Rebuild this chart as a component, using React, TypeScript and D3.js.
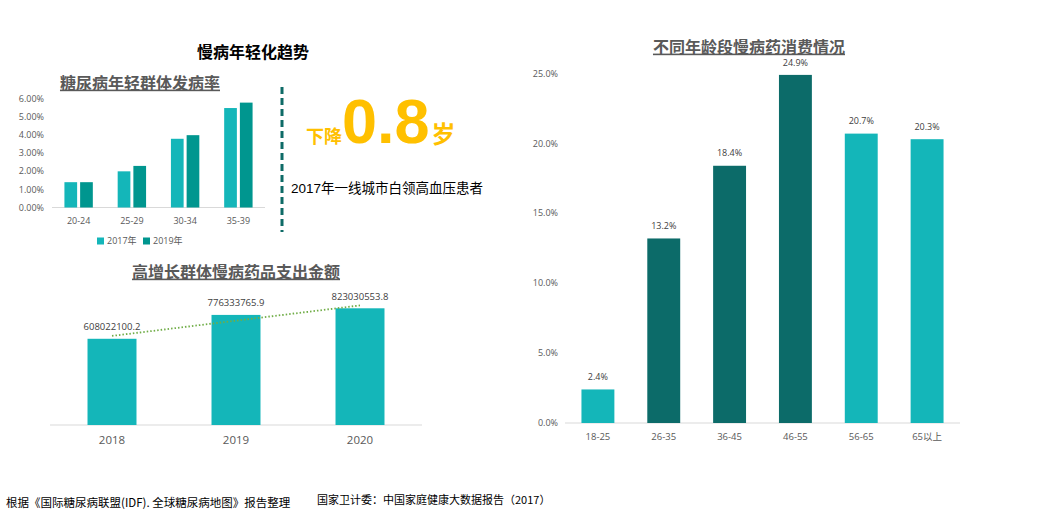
import React from "react";
import * as d3 from "d3";

const ageGroups = ["20-24", "25-29", "30-34", "35-39"];
const rate2017 = [0.014, 0.02, 0.038, 0.055];
const rate2019 = [0.014, 0.023, 0.04, 0.058];
const rateTicks = [0, 0.01, 0.02, 0.03, 0.04, 0.05, 0.06];
const seriesNames = ["2017年", "2019年"];

const years = ["2018", "2019", "2020"];
const spending = [608022100.2, 776333765.9, 823030553.8];

const consumeGroups = ["18-25", "26-35", "36-45", "46-55", "56-65", "65以上"];
const consumeValues = [0.024, 0.132, 0.184, 0.249, 0.207, 0.203];
const consumeDark = [false, true, true, true, false, false];
const consumeTicks = [0, 0.05, 0.1, 0.15, 0.2, 0.25];

const LIGHT = "#14B6B9";
const MID = "#00968F";
const DARK = "#0C6B69";
const GREY = "#595959";
const LBL = "#404040";
const FONT = "'Open Sans', 'Noto Sans CJK SC', sans-serif";
const CJK = "'Noto Sans CJK SC', sans-serif";
const ARIAL = "'Liberation Sans', 'Noto Sans CJK SC', sans-serif";

function TopLeft() {
  const x0 = d3.scaleBand().domain(ageGroups).range([52, 265]);
  const y = d3.scaleLinear().domain([0, 0.06]).range([207.5, 99]);
  const bw = 12.7;
  const gap = 3;
  const fmt = d3.format(".2%");
  return (
    <g>
      {rateTicks.map((t) => (
        <text key={t} x={44} y={y(t)} dy="0.35em" textAnchor="end" fontSize={9} fill={GREY} fontFamily={FONT}>
          {fmt(t)}
        </text>
      ))}
      <line x1={52} x2={265} y1={y(0)} y2={y(0)} stroke="#D9D9D9" strokeWidth={1} />
      {ageGroups.map((g, i) => {
        const c = (x0(g) as number) + x0.bandwidth() / 2;
        return (
          <g key={g}>
            <rect x={c - gap / 2 - bw} y={y(rate2017[i])} width={bw} height={y(0) - y(rate2017[i])} fill={LIGHT} />
            <rect x={c + gap / 2} y={y(rate2019[i])} width={bw} height={y(0) - y(rate2019[i])} fill={MID} />
            <text x={c} y={221} dy="0.35em" textAnchor="middle" fontSize={9} fill={GREY} fontFamily={FONT}>
              {g}
            </text>
          </g>
        );
      })}
      {seriesNames.map((s, i) => (
        <g key={s}>
          <rect x={97 + i * 46} y={237.5} width={7} height={7} fill={i === 0 ? LIGHT : MID} />
          <text x={107 + i * 46} y={241} dy="0.35em" fontSize={9} fill={GREY} fontFamily={FONT}>
            {s}
          </text>
        </g>
      ))}
    </g>
  );
}

function BottomLeft() {
  const x = d3.scaleBand().domain(years).range([50, 422]).paddingInner(0.605).paddingOuter(0.3025);
  const y = d3.scaleLinear().domain([0, 1e9]).range([425, 283.2]);
  // linear trendline (least squares over index 1..n)
  const n = spending.length;
  const xs = spending.map((_, i) => i + 1);
  const mx = d3.mean(xs) as number;
  const my = d3.mean(spending) as number;
  const slope =
    (d3.sum(xs.map((xi, i) => (xi - mx) * (spending[i] - my))) as number) /
    (d3.sum(xs.map((xi) => (xi - mx) ** 2)) as number);
  const icpt = my - slope * mx;
  const cx = (i: number) => (x(years[i]) as number) + x.bandwidth() / 2;
  const line = d3
    .line<number>()
    .x((_, i) => cx(i))
    .y((_, i) => y(icpt + slope * (i + 1)));
  return (
    <g>
      <line x1={50} x2={422} y1={425} y2={425} stroke="#D9D9D9" strokeWidth={1} />
      {years.map((yr, i) => (
        <g key={yr}>
          <rect x={x(yr)} y={y(spending[i])} width={x.bandwidth()} height={425 - y(spending[i])} fill={LIGHT} />
          <text x={cx(i)} y={y(spending[i]) - 12} dy="0.35em" textAnchor="middle" fontSize={9.5} fill={LBL} fontFamily={FONT}>
            {spending[i].toFixed(1)}
          </text>
          <text x={cx(i)} y={440} dy="0.35em" textAnchor="middle" fontSize={11.5} fill={GREY} fontFamily={FONT}>
            {yr}
          </text>
        </g>
      ))}
      <path d={line(spending) || ""} fill="none" stroke="#70AD47" strokeWidth={1.8} strokeDasharray="1.5 2" />
    </g>
  );
}

function Right() {
  const x = d3.scaleBand().domain(consumeGroups).range([565, 960]).paddingInner(0.5).paddingOuter(0.25);
  const y = d3.scaleLinear().domain([0, 0.25]).range([423, 73.5]);
  const fmt = d3.format(".1%");
  return (
    <g>
      {consumeTicks.map((t) => (
        <text key={t} x={558} y={y(t)} dy="0.35em" textAnchor="end" fontSize={9} fill={GREY} fontFamily={FONT}>
          {fmt(t)}
        </text>
      ))}
      <line x1={565} x2={960} y1={y(0)} y2={y(0)} stroke="#D9D9D9" strokeWidth={1} />
      {consumeGroups.map((g, i) => {
        const cx = (x(g) as number) + x.bandwidth() / 2;
        return (
          <g key={g}>
            <rect x={x(g)} y={y(consumeValues[i])} width={x.bandwidth()} height={y(0) - y(consumeValues[i])} fill={consumeDark[i] ? DARK : LIGHT} />
            <text x={cx} y={y(consumeValues[i]) - 12.5} dy="0.35em" textAnchor="middle" fontSize={9} fill={LBL} fontFamily={FONT}>
              {fmt(consumeValues[i])}
            </text>
            <text x={cx} y={437} dy="0.35em" textAnchor="middle" fontSize={9.5} fill={GREY} fontFamily={FONT}>
              {g}
            </text>
          </g>
        );
      })}
    </g>
  );
}

export default function App() {
  return (
    <div style={{ position: "absolute", left: 0, top: 0 }}>
      <svg width={1055} height={525} style={{ display: "block", background: "#fff" }}>
        <text x={253} y={52} dy="0.35em" textAnchor="middle" fontSize={16} fontWeight="bold" fill="#000" fontFamily={CJK}>
          慢病年轻化趋势
        </text>
        <text x={140} y={83} dy="0.35em" textAnchor="middle" fontSize={16} fontWeight="bold" fill={GREY} fontFamily={CJK} textDecoration="underline">
          糖尿病年轻群体发病率
        </text>
        <TopLeft />
        <line x1={282} x2={282} y1={87} y2={232} stroke="#0E6B67" strokeWidth={3} strokeDasharray="7 4" />
        <text x={306} y={143} fill="#FFC000" fontFamily={ARIAL} fontWeight="bold">
          <tspan fontSize={18}>下降</tspan>
          <tspan fontSize={63}>0.8</tspan>
          <tspan fontSize={24} dx={2}>岁</tspan>
        </text>
        <text x={291} y={188} dy="0.35em" fontSize={13.5} fill="#000" fontFamily={ARIAL}>
          2017年一线城市白领高血压患者
        </text>
        <text x={236} y={272} dy="0.35em" textAnchor="middle" fontSize={16} fontWeight="bold" fill={GREY} fontFamily={CJK} textDecoration="underline">
          高增长群体慢病药品支出金额
        </text>
        <BottomLeft />
        <text x={749} y={47} dy="0.35em" textAnchor="middle" fontSize={16} fontWeight="bold" fill={GREY} fontFamily={CJK} textDecoration="underline">
          不同年龄段慢病药消费情况
        </text>
        <Right />
        <text x={6} y={503} dy="0.35em" fontSize={11.5} fill="#000" fontFamily={CJK}>
          根据《国际糖尿病联盟(IDF). 全球糖尿病地图》报告整理
        </text>
        <text x={317} y={500} dy="0.35em" fontSize={11} fill="#000" fontFamily={CJK}>
          国家卫计委：中国家庭健康大数据报告（2017）
        </text>
      </svg>
    </div>
  );
}
